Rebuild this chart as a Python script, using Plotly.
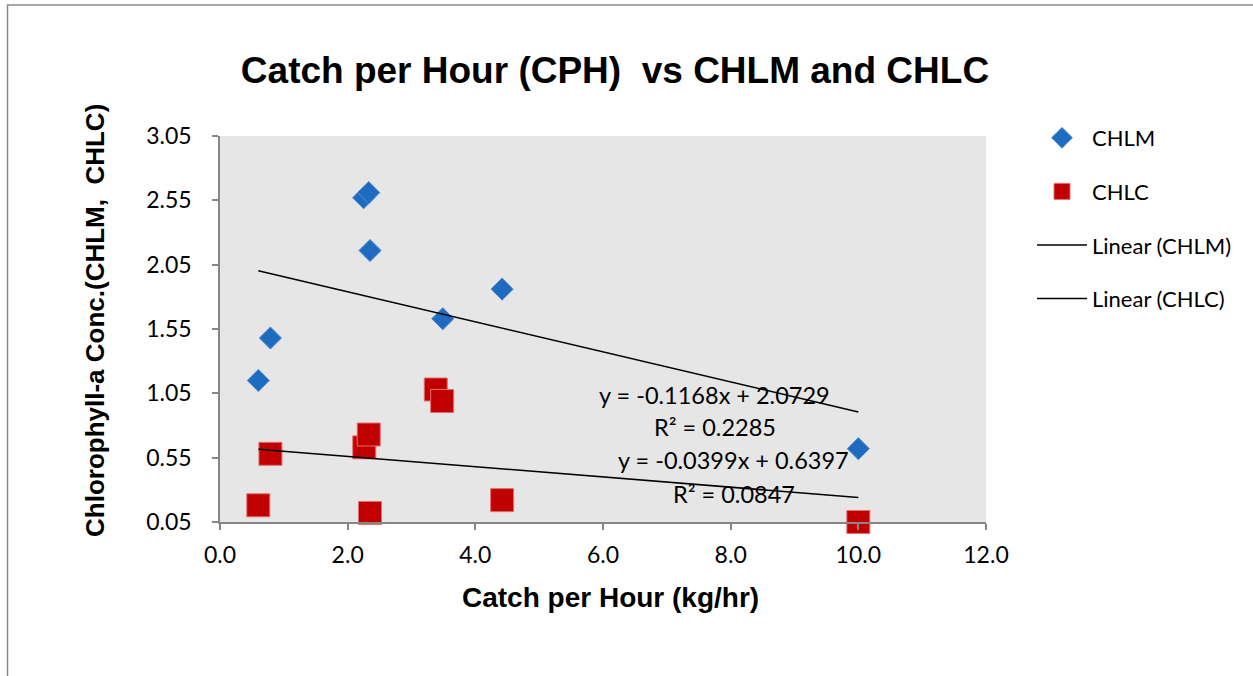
import plotly.graph_objects as go

# ---- data ----
chlm_x = [0.60, 0.79, 2.25, 2.33, 2.35, 3.49, 4.42, 10.0]
chlm_y = [1.15, 1.48, 2.57, 2.61, 2.16, 1.63, 1.86, 0.62]
chlc_x = [0.60, 0.79, 2.26, 2.33, 2.35, 3.38, 3.48, 4.42, 10.0]
chlc_y = [0.18, 0.58, 0.63, 0.73, 0.12, 1.08, 0.99, 0.22, 0.05]
series_names = ["CHLM", "CHLC"]
trend_slopes = [-0.1168, -0.0399]
trend_intercepts = [2.0729, 0.6397]
trend_r2 = [0.2285, 0.0847]
x_ticks = [0, 2, 4, 6, 8, 10, 12]
y_ticks = [0.05, 0.55, 1.05, 1.55, 2.05, 2.55, 3.05]

FONT = "Lato"
fig = go.Figure()

fig.add_trace(go.Scatter(
    x=chlm_x, y=chlm_y, mode="markers", name=series_names[0],
    legendgroup="a",
    marker=dict(symbol="diamond", size=17, color="#1F6BC0",
                line=dict(color="#4A8BD6", width=1)),
    cliponaxis=False))
fig.add_trace(go.Scatter(
    x=chlc_x, y=chlc_y, mode="markers", name=series_names[1],
    legendgroup="b",
    marker=dict(symbol="square", size=23, color="#C00000",
                line=dict(color="#E07070", width=1)),
    cliponaxis=False))

for i, (xs, nm, grp) in enumerate([(chlm_x, "Linear (CHLM)", "c"), (chlc_x, "Linear (CHLC)", "d")]):
    x0, x1 = min(xs), max(xs)
    fig.add_trace(go.Scatter(
        x=[x0, x1],
        y=[trend_slopes[i] * x0 + trend_intercepts[i], trend_slopes[i] * x1 + trend_intercepts[i]],
        mode="lines", name=nm, legendgroup=grp,
        line=dict(color="black", width=1.5)))

# trendline equations
eq_pos = [(7.75, 1.04, 0.79), (8.05, 0.53, 0.27)]
for i in range(2):
    ex, ey, ry = eq_pos[i]
    sign = "+" if trend_intercepts[i] >= 0 else "-"
    fig.add_annotation(x=ex, y=ey, xref="x", yref="y", showarrow=False,
                       text=f"y = {trend_slopes[i]:.4f}x {sign} {abs(trend_intercepts[i]):.4f}",
                       font=dict(family=FONT, size=23.5, color="black"))
    fig.add_annotation(x=ex, y=ry, xref="x", yref="y", showarrow=False,
                       text=f"R² = {trend_r2[i]:.4f}",
                       font=dict(family=FONT, size=23.5, color="black"))

# axis titles
fig.add_annotation(x=(610 - 220) / 766, y=(522 - 597) / 386, xref="paper", yref="paper",
                   showarrow=False, text="<b>Catch per Hour (kg/hr)</b>",
                   font=dict(family="Liberation Sans", size=28, color="black"),
                   xanchor="center", yanchor="middle")
fig.add_annotation(x=(95 - 220) / 766, y=(522 - 320) / 386, xref="paper", yref="paper",
                   showarrow=False, text="<b>Chlorophyll-a Conc.(CHLM,  CHLC)</b>", textangle=-90,
                   font=dict(family="Liberation Sans", size=26, color="black"),
                   xanchor="center", yanchor="middle")

# outer frame
fig.add_shape(type="rect", xref="paper", yref="paper",
              x0=(7.5 - 220) / 766, x1=(1270 - 220) / 766,
              y0=(522 - 700) / 386, y1=(522 - 5) / 386,
              line=dict(color="#8A8A8A", width=1.5), fillcolor="rgba(0,0,0,0)", layer="below")

fig.update_layout(
    width=1253, height=676,
    margin=dict(l=220, r=1253 - 986, t=136, b=676 - 522),
    paper_bgcolor="white", plot_bgcolor="#E6E6E6",
    title=dict(text="<b>Catch per Hour (CPH) \u00a0vs CHLM and CHLC</b>",
               x=(615 - 220) / 766, xref="paper", xanchor="center",
               y=1 - 70 / 676, yref="container", yanchor="middle",
               font=dict(family="Liberation Sans", size=37, color="black")),
    showlegend=True,
    legend=dict(x=(1032 - 220) / 766, y=(522 - 117) / 386, xanchor="left", yanchor="top",
                font=dict(family=FONT, size=22, color="black"),
                tracegroupgap=22, itemwidth=50, bgcolor="rgba(0,0,0,0)"),
    xaxis=dict(range=[0, 12], tickvals=x_ticks, tickformat=".1f",
               showgrid=False, zeroline=False, showline=True, linecolor="#868686", linewidth=1.5,
               ticks="outside", ticklen=6, tickcolor="#868686", tickwidth=1.5,
               tickfont=dict(family=FONT, size=23, color="black"), ticklabelstandoff=6),
    yaxis=dict(range=[0.05, 3.05], tickvals=y_ticks, tickformat=".2f",
               showgrid=False, zeroline=False, showline=True, linecolor="#868686", linewidth=1.5,
               ticks="outside", ticklen=6, tickcolor="#868686", tickwidth=1.5,
               tickfont=dict(family=FONT, size=23, color="black"), ticklabelstandoff=16),
)

fig.write_html("out.html", config={"displayModeBar": False},
               post_script="document.body.style.margin='0';")
